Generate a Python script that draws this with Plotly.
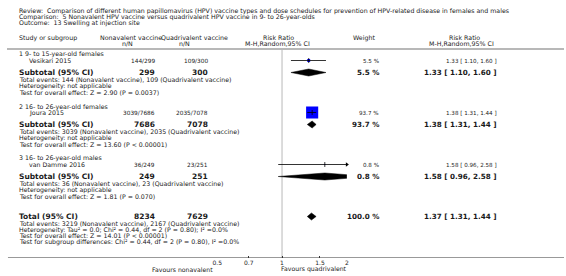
import math
import plotly.graph_objects as go

# ---------------- data ----------------
title_lines = [
    "Review:  Comparison of different human papillomavirus (HPV) vaccine types and dose schedules for prevention of HPV-related disease in females and males",
    "Comparison:  5 Nonavalent HPV vaccine versus quadrivalent HPV vaccine in 9- to 26-year-olds",
    "Outcome:  13 Swelling at injection site",
]
group_names = ["1 9- to 15-year-old females", "2 16- to 26-year-old females", "3 16- to 26-year-old males"]
study_names = ["Vesikari 2015", "Joura 2015", "van Damme 2016"]
nona_events = [144, 3039, 36]
nona_total = [299, 7686, 249]
quad_events = [109, 2035, 23]
quad_total = [300, 7078, 251]
rr = [1.33, 1.38, 1.58]
rr_lo = [1.10, 1.31, 0.96]
rr_hi = [1.60, 1.44, 2.58]
weights = [5.5, 93.7, 0.8]
overall_tests = ["Z = 2.90 (P = 0.0037)", "Z = 13.60 (P < 0.00001)", "Z = 1.81 (P = 0.070)"]

total_nona = 8234
total_quad = 7629
total_ev_nona = 3219
total_ev_quad = 2167
total_rr, total_lo, total_hi = 1.37, 1.31, 1.44
total_weight = 100.0
total_het = "Heterogeneity: Tau\u00b2 = 0.0; Chi\u00b2 = 0.44, df = 2 (P = 0.80); I\u00b2 =0.0%"
total_test = "Test for overall effect: Z = 14.01 (P < 0.00001)"
subgroup_test = "Test for subgroup differences: Chi\u00b2 = 0.44, df = 2 (P = 0.80), I\u00b2 =0.0%"

tick_vals = [0.5, 0.7, 1, 1.5, 2]
tick_text = ["0.5", "0.7", "1", "1.5", "2"]
x_min, x_max = 0.5, 2
favours = ["Favours nonavalent", "Favours quadrivalent"]

# ---------------- layout parameters (pixels) ----------------
W, H = 566, 276
FONT = "DejaVu Sans"
TXT = "#1a1a1a"
AXIS_Y = 258
NULL_PX = 280.5
PX_DEC = 218
fx0 = NULL_PX + math.log10(x_min) * PX_DEC
fx1 = NULL_PX + math.log10(x_max) * PX_DEC

title_y = [10.6, 17, 23.4]
hdr_y1, hdr_y2, hdr_line = 37.5, 43.5, 49
rows = [
    dict(head=54, study=60.5, sub=72.5, ev=79, het=85.5, test=92.5),
    dict(head=106.5, study=112.5, sub=124.5, ev=131.5, het=138, test=144.5),
    dict(head=158, study=164.5, sub=176.5, ev=183, het=189.5, test=196),
]
trow = dict(tot=216.5, ev=223, het=229.5, test=235.8, sub=242.1)

X_GRP, X_STUDY = 13, 23
NONA_R, QUAD_R, W_R, RR_R = 153, 207, 380, 499
DIA_H = 3.5
S_TITLE, S_HDR, S_BODY, S_NUM, S_SMALL, S_BOLD, S_BOLD2 = 6.25, 6.3, 6.25, 5.8, 5.6, 7.5, 7.2

annotations = []


def txt(x, y, s, size=6, anchor="left", bold=False, yref="y"):
    annotations.append(dict(
        x=x / W, xref="paper", y=y if yref == "y" else (H - y) / H, yref=yref,
        text=("<b>%s</b>" % s) if bold else s, showarrow=False,
        xanchor=anchor, yanchor="middle", borderpad=0,
        font=dict(family=FONT, size=size, color=TXT),
    ))


for i, s in enumerate(title_lines):
    txt(X_GRP, title_y[i], s, S_TITLE)

txt(X_GRP, hdr_y1, "Study or subgroup", S_HDR)
txt(128, hdr_y1, "Nonavalent vaccine", S_HDR, "center")
txt(124, hdr_y2, "n/N", S_HDR, "center")
txt(192, hdr_y1, "Quadrivalent vaccine", S_HDR, "center")
txt(182, hdr_y2, "n/N", S_HDR, "center")
txt(277, hdr_y1, "Risk Ratio", S_HDR, "center")
txt(276, hdr_y2, "M-H,Random,95% CI", S_HDR, "center")
txt(363, hdr_y1, "Weight", S_HDR, "center")
txt(465, hdr_y1, "Risk Ratio", S_HDR, "center")
txt(462, hdr_y2, "M-H,Random,95% CI", S_HDR, "center")

for i in range(3):
    r = rows[i]
    txt(X_GRP, r["head"], group_names[i], S_BODY)
    txt(X_STUDY, r["study"], study_names[i], S_BODY)
    txt(NONA_R, r["study"], "%d/%d" % (nona_events[i], nona_total[i]), S_NUM, "right")
    txt(QUAD_R, r["study"], "%d/%d" % (quad_events[i], quad_total[i]), S_NUM, "right")
    txt(W_R, r["study"], "%.1f %%" % weights[i], S_SMALL, "right")
    txt(RR_R, r["study"], "%.2f [ %.2f, %.2f ]" % (rr[i], rr_lo[i], rr_hi[i]), S_SMALL, "right")
    txt(X_GRP, r["sub"], "Subtotal (95% CI)", S_BOLD, bold=True)
    txt(NONA_R, r["sub"], "%d" % nona_total[i], S_BOLD, "right", bold=True)
    txt(QUAD_R, r["sub"], "%d" % quad_total[i], S_BOLD, "right", bold=True)
    txt(W_R, r["sub"], "%.1f %%" % weights[i], S_BOLD2, "right", bold=True)
    txt(RR_R, r["sub"], "%.2f [ %.2f, %.2f ]" % (rr[i], rr_lo[i], rr_hi[i]), S_BOLD2, "right", bold=True)
    txt(X_GRP, r["ev"], "Total events: %d (Nonavalent vaccine), %d (Quadrivalent vaccine)" % (nona_events[i], quad_events[i]), S_BODY)
    txt(X_GRP, r["het"], "Heterogeneity: not applicable", S_BODY)
    txt(X_GRP, r["test"], "Test for overall effect: " + overall_tests[i], S_BODY)

txt(X_GRP, trow["tot"], "Total (95% CI)", S_BOLD, bold=True)
txt(NONA_R, trow["tot"], "%d" % total_nona, S_BOLD, "right", bold=True)
txt(QUAD_R, trow["tot"], "%d" % total_quad, S_BOLD, "right", bold=True)
txt(W_R, trow["tot"], "%.1f %%" % total_weight, S_BOLD2, "right", bold=True)
txt(RR_R, trow["tot"], "%.2f [ %.2f, %.2f ]" % (total_rr, total_lo, total_hi), S_BOLD2, "right", bold=True)
txt(X_GRP, trow["ev"], "Total events: %d (Nonavalent vaccine), %d (Quadrivalent vaccine)" % (total_ev_nona, total_ev_quad), S_BODY)
txt(X_GRP, trow["het"], total_het, S_BODY)
txt(X_GRP, trow["test"], total_test, S_BODY)
txt(X_GRP, trow["sub"], subgroup_test, S_BODY)

txt(180, 269, favours[0], 6.2, "center", yref="paper")
txt(313, 269, favours[1], 6.2, "center", yref="paper")

fig = go.Figure()


def diamond(est, lo, hi, y):
    fig.add_trace(go.Scatter(
        x=[lo, est, hi, est, lo], y=[y, y - DIA_H, y, y + DIA_H, y],
        mode="lines", fill="toself", fillcolor="black",
        line=dict(color="black", width=0.5), hoverinfo="skip"))


for i in range(3):
    y = rows[i]["study"]
    fig.add_trace(go.Scatter(
        x=[rr[i]], y=[y], mode="markers",
        marker=dict(symbol="square", size=1.25 * math.sqrt(weights[i]), color="#0000ff",
                    line=dict(width=0))))
    fig.add_trace(go.Scatter(
        x=[rr_lo[i], rr_hi[i]], y=[y, y], mode="lines",
        line=dict(color="black", width=0.8)))
    fig.add_trace(go.Scatter(
        x=[rr[i]], y=[y], mode="markers",
        marker=dict(symbol="line-ns", size=3.5, line=dict(color="black", width=0.8))))
    if rr_hi[i] > x_max:
        fig.add_trace(go.Scatter(
            x=[x_max], y=[y], mode="markers", cliponaxis=False,
            marker=dict(symbol="triangle-right", size=4, color="black")))
    if rr_lo[i] < x_min:
        fig.add_trace(go.Scatter(
            x=[x_min], y=[y], mode="markers", cliponaxis=False,
            marker=dict(symbol="triangle-left", size=4, color="black")))
    diamond(rr[i], rr_lo[i], rr_hi[i], rows[i]["sub"])

diamond(total_rr, total_lo, total_hi, trow["tot"])

shapes = [
    dict(type="line", xref="x", yref="y", x0=1, x1=1, y0=hdr_line + 1, y1=AXIS_Y,
         line=dict(color="#d0d0d0", width=1.5), layer="below"),
    dict(type="line", xref="paper", yref="y", x0=2 / W, x1=1, y0=hdr_line, y1=hdr_line,
         line=dict(color="#a0a0a0", width=1.5)),
    dict(type="line", xref="paper", yref="y", x0=3 / W, x1=1, y0=AXIS_Y, y1=AXIS_Y,
         line=dict(color="#333333", width=1)),
]

fig.update_layout(
    width=W, height=H, margin=dict(l=0, r=0, t=0, b=0),
    paper_bgcolor="white", plot_bgcolor="white", showlegend=False,
    annotations=annotations, shapes=shapes,
    xaxis=dict(type="log", range=[math.log10(x_min), math.log10(x_max)],
               domain=[fx0 / W, fx1 / W], tickvals=tick_vals, ticktext=tick_text,
               ticks="inside", ticklen=2, tickcolor="#333333", tickwidth=1,
               tickfont=dict(family=FONT, size=6, color=TXT),
               showgrid=False, zeroline=False, showline=False, fixedrange=True),
    yaxis=dict(range=[AXIS_Y, 0], domain=[(H - AXIS_Y) / H, 1], visible=False,
               showgrid=False, zeroline=False, fixedrange=True),
)

fig.write_html(
    "out.html",
    config=dict(displayModeBar=False),
    post_script="document.body.style.margin='0';document.body.style.overflow='hidden';",
)
